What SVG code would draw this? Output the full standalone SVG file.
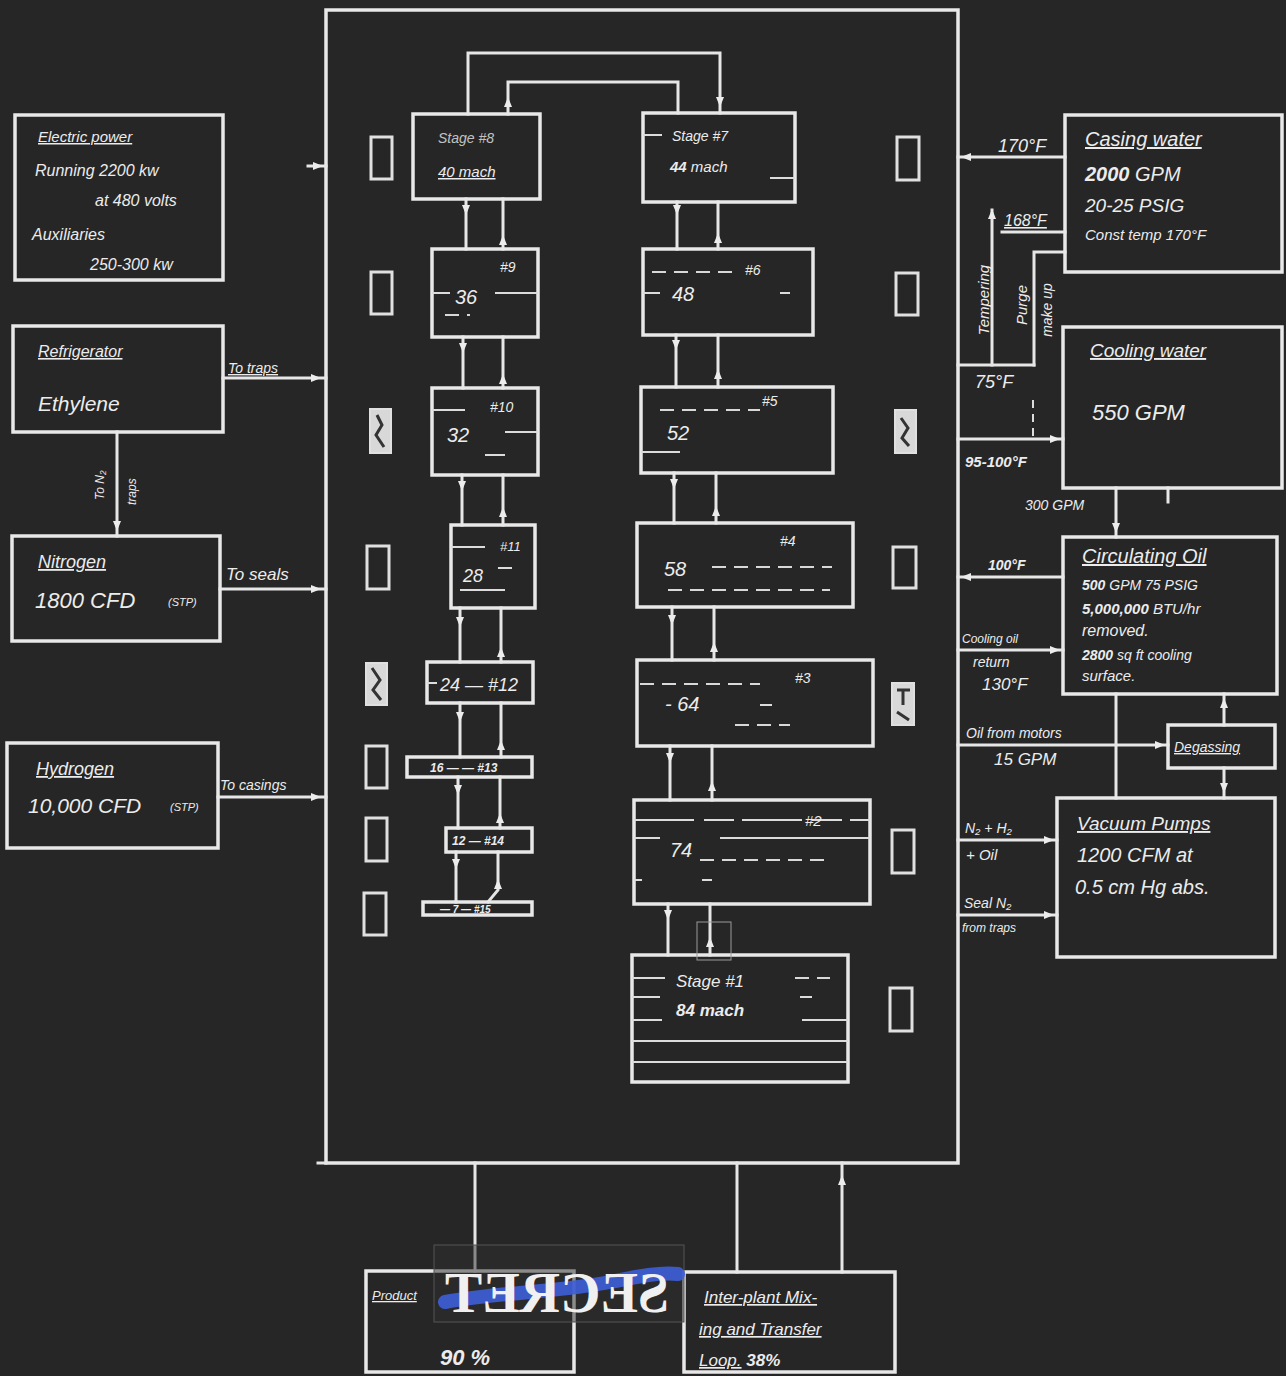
<svg xmlns="http://www.w3.org/2000/svg" width="1286" height="1376" viewBox="0 0 1286 1376">
<style>
.ln{stroke:#e6e6e6;stroke-width:3;fill:none;stroke-linecap:square}
.bx{stroke:#e8e8e8;stroke-width:3.5;fill:none}
.thin{stroke:#dcdcdc;stroke-width:2;fill:none}
.dash{stroke:#d8d8d8;stroke-width:2;fill:none;stroke-dasharray:14 8}
.t{font-family:"Liberation Sans",Arial,sans-serif;font-style:italic;fill:#ececec}
.b{font-weight:bold}
.u{text-decoration:underline}
.ah{fill:#ececec}
.sb{stroke:#e0e0e0;stroke-width:3;fill:none}
.sf{stroke:#e0e0e0;stroke-width:2;fill:#d8d8d8}
</style>
<defs>
<path id="aDn" d="M-4,-5 L4,-5 L0,5 Z"/>
<path id="aUp" d="M-4,5 L4,5 L0,-5 Z"/>
<path id="aL" d="M5,-4 L5,4 L-5,0 Z"/>
<path id="aR" d="M-5,-4 L-5,4 L5,0 Z"/>
</defs>
<rect x="0" y="0" width="1286" height="1376" fill="#262626"/>

<!-- main cascade enclosure -->
<g id="cascade">
<rect class="bx" x="326" y="10" width="632" height="1153" stroke-width="4"/>
</g>

<!-- connectors -->
<g id="connectors" class="ah">
<line class="ln" x1="308" y1="166" x2="326" y2="166"/><use href="#aR" x="318" y="166"/>
<line class="ln" x1="223" y1="378" x2="326" y2="378"/><use href="#aR" x="316" y="378"/>
<line class="ln" x1="220" y1="589" x2="326" y2="589"/><use href="#aR" x="316" y="589"/>
<line class="ln" x1="218" y1="797" x2="326" y2="797"/><use href="#aR" x="316" y="797"/>
<line class="ln" x1="117" y1="432" x2="117" y2="536"/><use href="#aDn" x="117" y="526"/>
<polyline class="ln" points="468,114 468,53 720,53 720,113"/>
<use href="#aDn" x="720" y="102"/>
<polyline class="ln" points="508,114 508,82 678,82 678,113"/>
<use href="#aUp" x="508" y="102"/>
<line class="ln" x1="466" y1="199" x2="466" y2="249"/><use href="#aDn" x="466" y="210"/>
<line class="ln" x1="503" y1="199" x2="503" y2="249"/><use href="#aUp" x="503" y="240"/>
<line class="ln" x1="463" y1="337" x2="463" y2="388"/><use href="#aDn" x="463" y="348"/>
<line class="ln" x1="503" y1="337" x2="503" y2="388"/><use href="#aUp" x="503" y="379"/>
<line class="ln" x1="462" y1="475" x2="462" y2="525"/><use href="#aDn" x="462" y="486"/>
<line class="ln" x1="503" y1="475" x2="503" y2="525"/><use href="#aUp" x="503" y="512"/>
<line class="ln" x1="460" y1="608" x2="460" y2="662"/><use href="#aDn" x="460" y="622"/>
<line class="ln" x1="501" y1="608" x2="501" y2="662"/><use href="#aUp" x="501" y="652"/>
<line class="ln" x1="460" y1="703" x2="460" y2="757"/><use href="#aDn" x="460" y="717"/>
<line class="ln" x1="501" y1="703" x2="501" y2="757"/><use href="#aUp" x="501" y="745"/>
<line class="ln" x1="458" y1="777" x2="458" y2="828"/><use href="#aDn" x="458" y="790"/>
<line class="ln" x1="500" y1="777" x2="500" y2="828"/><use href="#aUp" x="500" y="818"/>
<line class="ln" x1="456" y1="852" x2="456" y2="902"/><use href="#aDn" x="456" y="864"/>
<polyline class="ln" points="498,852 498,890 488,902"/><use href="#aUp" x="498" y="884"/>
<line class="ln" x1="677" y1="202" x2="677" y2="249"/><use href="#aDn" x="677" y="210"/>
<line class="ln" x1="718" y1="202" x2="718" y2="249"/><use href="#aUp" x="718" y="238"/>
<line class="ln" x1="676" y1="335" x2="676" y2="387"/><use href="#aDn" x="676" y="345"/>
<line class="ln" x1="718" y1="335" x2="718" y2="387"/><use href="#aUp" x="718" y="374"/>
<line class="ln" x1="674" y1="473" x2="674" y2="523"/><use href="#aDn" x="674" y="484"/>
<line class="ln" x1="716" y1="473" x2="716" y2="523"/><use href="#aUp" x="716" y="511"/>
<line class="ln" x1="672" y1="607" x2="672" y2="660"/><use href="#aDn" x="672" y="620"/>
<line class="ln" x1="714" y1="607" x2="714" y2="660"/><use href="#aUp" x="714" y="647"/>
<line class="ln" x1="670" y1="746" x2="670" y2="800"/><use href="#aDn" x="670" y="758"/>
<line class="ln" x1="712" y1="746" x2="712" y2="800"/><use href="#aUp" x="712" y="786"/>
<line class="ln" x1="668" y1="904" x2="668" y2="955"/><use href="#aDn" x="668" y="915"/>
<line class="ln" x1="710" y1="904" x2="710" y2="955"/><use href="#aUp" x="710" y="942"/>
<line class="ln" x1="958" y1="157" x2="1065" y2="157"/><use href="#aL" x="966" y="157"/>
<polyline class="ln" points="1002,232 1065,232"/>
<line class="ln" x1="992" y1="210" x2="992" y2="365"/><use href="#aUp" x="992" y="214"/>
<polyline class="ln" points="1065,252 1034,252 1034,365"/>
<line class="ln" x1="958" y1="365" x2="1034" y2="365"/>
<line class="thin" x1="1033" y1="400" x2="1033" y2="438" stroke-dasharray="8 6"/>
<line class="ln" x1="958" y1="439" x2="1063" y2="439"/><use href="#aR" x="1055" y="439"/>
<line class="ln" x1="1168" y1="488" x2="1168" y2="502"/>
<line class="ln" x1="1116" y1="488" x2="1116" y2="537"/><use href="#aDn" x="1116" y="528"/>
<line class="ln" x1="958" y1="577" x2="1063" y2="577"/><use href="#aL" x="966" y="577"/>
<line class="ln" x1="958" y1="650" x2="1063" y2="650"/><use href="#aR" x="1055" y="650"/>
<line class="ln" x1="1116" y1="694" x2="1116" y2="798"/>
<line class="ln" x1="1224" y1="694" x2="1224" y2="725"/><use href="#aUp" x="1224" y="703"/>
<line class="ln" x1="958" y1="745" x2="1168" y2="745"/><use href="#aR" x="1160" y="745"/>
<line class="ln" x1="1224" y1="768" x2="1224" y2="798"/><use href="#aDn" x="1224" y="788"/>
<line class="ln" x1="958" y1="840" x2="1057" y2="840"/><use href="#aR" x="1049" y="840"/>
<line class="ln" x1="958" y1="915" x2="1057" y2="915"/><use href="#aR" x="1049" y="915"/>
<line class="ln" x1="318" y1="1163" x2="326" y2="1163"/>
<line class="ln" x1="475" y1="1163" x2="475" y2="1271"/>
<line class="ln" x1="737" y1="1163" x2="737" y2="1272"/>
<line class="ln" x1="842" y1="1163" x2="842" y2="1272"/><use href="#aUp" x="842" y="1180"/>
</g>

<!-- connector labels -->
<g id="labels">
<text class="t u" x="228" y="373" font-size="14">To traps</text>
<text class="t" x="226" y="580" font-size="17">To seals</text>
<text class="t" x="220" y="790" font-size="14">To casings</text>
<text class="t" font-size="12" transform="translate(104,500) rotate(-90)">To N₂</text>
<text class="t" font-size="12" transform="translate(136,505) rotate(-90)">traps</text>
<text class="t" x="998" y="152" font-size="18">170°F</text>
<text class="t u" x="1004" y="226" font-size="16">168°F</text>
<text class="t" font-size="15" text-anchor="middle" transform="translate(989,300) rotate(-90)">Tempering</text>
<text class="t" font-size="15" text-anchor="middle" transform="translate(1027,305) rotate(-90)">Purge</text>
<text class="t" font-size="14" text-anchor="middle" transform="translate(1052,310) rotate(-90)">make up</text>
<text class="t" x="975" y="388" font-size="18">75°F</text>
<text class="t b" x="965" y="467" font-size="15">95-100°F</text>
<text class="t" x="1025" y="510" font-size="14">300 GPM</text>
<text class="t b" x="988" y="570" font-size="14">100°F</text>
<text class="t" x="962" y="643" font-size="12">Cooling oil</text>
<text class="t" x="973" y="667" font-size="14">return</text>
<text class="t" x="982" y="690" font-size="17">130°F</text>
<text class="t" x="966" y="738" font-size="14">Oil from motors</text>
<text class="t" x="994" y="765" font-size="17">15 GPM</text>
<text class="t" x="965" y="833" font-size="14">N₂ + H₂</text>
<text class="t" x="966" y="860" font-size="15">+ Oil</text>
<text class="t" x="964" y="908" font-size="14">Seal N₂</text>
<text class="t" x="962" y="932" font-size="12">from traps</text>
</g>

<!-- left supply boxes -->
<g id="electric-power">
<rect class="bx" x="15" y="115" width="208" height="165"/>
<text class="t u" x="38" y="142" font-size="15">Electric power</text>
<text class="t" x="35" y="176" font-size="16">Running 2200 kw</text>
<text class="t" x="95" y="206" font-size="16">at 480 volts</text>
<text class="t" x="32" y="240" font-size="16">Auxiliaries</text>
<text class="t" x="90" y="270" font-size="16">250-300 kw</text>
</g>
<g id="refrigerator">
<rect class="bx" x="13" y="326" width="210" height="106"/>
<text class="t u" x="38" y="357" font-size="16">Refrigerator</text>
<text class="t" x="38" y="411" font-size="21">Ethylene</text>
</g>
<g id="nitrogen">
<rect class="bx" x="12" y="536" width="208" height="105"/>
<text class="t u" x="38" y="568" font-size="18">Nitrogen</text>
<text class="t" x="35" y="608" font-size="22">1800 CFD</text>
<text class="t" x="168" y="606" font-size="11">(STP)</text>
</g>
<g id="hydrogen">
<rect class="bx" x="7" y="743" width="211" height="105"/>
<text class="t u" x="36" y="775" font-size="18">Hydrogen</text>
<text class="t" x="28" y="813" font-size="21">10,000 CFD</text>
<text class="t" x="170" y="811" font-size="11">(STP)</text>
</g>

<!-- side boxes inside enclosure -->
<g id="side-boxes">
<rect class="sb" x="371" y="137" width="21" height="42"/>
<rect class="sb" x="371" y="272" width="21" height="42"/>
<rect class="sf" x="370" y="409" width="21" height="44"/>
<path d="M377,415 L382,425 L376,435 L384,447" stroke="#333" stroke-width="3" fill="none"/>
<rect class="sb" x="367" y="546" width="22" height="43"/>
<rect class="sf" x="366" y="663" width="21" height="42"/>
<path d="M372,668 L380,680 L373,690 L381,700" stroke="#333" stroke-width="3" fill="none"/>
<rect class="sb" x="366" y="746" width="21" height="42"/>
<rect class="sb" x="366" y="818" width="21" height="43"/>
<rect class="sb" x="364" y="893" width="22" height="42"/>
<rect class="sb" x="897" y="137" width="22" height="43"/>
<rect class="sb" x="896" y="273" width="22" height="42"/>
<rect class="sf" x="895" y="410" width="21" height="43"/>
<path d="M901,418 L908,428 L902,438 L909,446" stroke="#333" stroke-width="3" fill="none"/>
<rect class="sb" x="893" y="547" width="23" height="41"/>
<rect class="sf" x="892" y="683" width="22" height="42"/>
<path d="M897,690 L910,690 M903,690 L903,705 M897,712 L909,720" stroke="#333" stroke-width="3" fill="none"/>
<rect class="sb" x="892" y="830" width="22" height="43"/>
<rect class="sb" x="890" y="988" width="22" height="43"/>
</g>

<!-- stages -->
<g id="stage-8">
<rect class="bx" x="413" y="114" width="127" height="85"/>
<text class="t" x="438" y="143" font-size="14" fill-opacity="0.8">Stage #8</text>
<text class="t u" x="438" y="177" font-size="15">40 mach</text>
</g>
<g id="stage-7">
<rect class="bx" x="643" y="113" width="152" height="89"/>
<line class="thin" x1="643" y1="135" x2="662" y2="135"/>
<line class="thin" x1="770" y1="178" x2="795" y2="178"/>
<text class="t" x="672" y="141" font-size="14">Stage #7</text>
<text class="t" x="670" y="172" font-size="15"><tspan class="b">44</tspan> mach</text>
</g>
<g id="stage-9">
<rect class="bx" x="432" y="249" width="106" height="88"/>
<line class="thin" x1="432" y1="293" x2="450" y2="293"/>
<line class="thin" x1="495" y1="293" x2="538" y2="293"/>
<line class="dash" x1="445" y1="315" x2="470" y2="315"/>
<text class="t" x="500" y="272" font-size="14">#9</text>
<text class="t" x="455" y="304" font-size="20">36</text>
</g>
<g id="stage-6">
<rect class="bx" x="643" y="249" width="170" height="86"/>
<line class="dash" x1="652" y1="272" x2="740" y2="272"/>
<line class="thin" x1="643" y1="293" x2="660" y2="293"/>
<line class="thin" x1="780" y1="293" x2="790" y2="293"/>
<text class="t" x="745" y="275" font-size="14">#6</text>
<text class="t" x="672" y="301" font-size="20">48</text>
</g>
<g id="stage-10">
<rect class="bx" x="432" y="388" width="106" height="87"/>
<line class="thin" x1="432" y1="410" x2="465" y2="410"/>
<line class="thin" x1="505" y1="432" x2="538" y2="432"/>
<line class="thin" x1="485" y1="455" x2="505" y2="455"/>
<text class="t" x="490" y="412" font-size="14">#10</text>
<text class="t" x="447" y="442" font-size="20">32</text>
</g>
<g id="stage-5">
<rect class="bx" x="641" y="387" width="192" height="86"/>
<line class="dash" x1="660" y1="410" x2="760" y2="410"/>
<line class="thin" x1="641" y1="452" x2="680" y2="452"/>
<text class="t" x="762" y="406" font-size="14">#5</text>
<text class="t" x="667" y="440" font-size="20">52</text>
</g>
<g id="stage-11">
<rect class="bx" x="451" y="525" width="84" height="83"/>
<line class="thin" x1="451" y1="547" x2="485" y2="547"/>
<line class="thin" x1="498" y1="568" x2="512" y2="568"/>
<line class="thin" x1="460" y1="590" x2="505" y2="590"/>
<text class="t" x="500" y="551" font-size="13">#11</text>
<text class="t" x="463" y="582" font-size="18">28</text>
</g>
<g id="stage-4">
<rect class="bx" x="637" y="523" width="216" height="84"/>
<line class="dash" x1="712" y1="567" x2="832" y2="567"/>
<line class="dash" x1="668" y1="590" x2="830" y2="590"/>
<text class="t" x="780" y="546" font-size="14">#4</text>
<text class="t" x="664" y="576" font-size="20">58</text>
</g>
<g id="stage-12">
<rect class="bx" x="427" y="662" width="106" height="41"/>
<line class="thin" x1="427" y1="683" x2="437" y2="683"/>
<text class="t" x="440" y="691" font-size="18">24 — #12</text>
</g>
<g id="stage-3">
<rect class="bx" x="637" y="660" width="236" height="86"/>
<line class="dash" x1="640" y1="684" x2="760" y2="684"/>
<line class="dash" x1="735" y1="725" x2="790" y2="725"/>
<line class="thin" x1="760" y1="705" x2="772" y2="705"/>
<text class="t" x="795" y="683" font-size="14">#3</text>
<text class="t" x="665" y="711" font-size="20">- 64</text>
</g>
<g id="stage-13">
<rect class="bx" x="407" y="757" width="125" height="20"/>
<text class="t b" x="430" y="772" font-size="12">16 — — #13</text>
</g>
<g id="stage-2">
<rect class="bx" x="634" y="800" width="236" height="104"/>
<line class="thin" x1="634" y1="820" x2="870" y2="820" stroke-dasharray="60 10 30 8"/>
<line class="thin" x1="634" y1="838" x2="660" y2="838"/>
<line class="thin" x1="720" y1="838" x2="870" y2="838"/>
<line class="dash" x1="700" y1="860" x2="830" y2="860"/>
<line class="thin" x1="634" y1="880" x2="870" y2="880" stroke-dasharray="8 60 10 200"/>
<text class="t" x="805" y="826" font-size="15">#2</text>
<text class="t" x="670" y="857" font-size="20">74</text>
</g>
<g id="stage-14">
<rect class="bx" x="446" y="828" width="86" height="24"/>
<text class="t b" x="452" y="845" font-size="12">12 — #14</text>
</g>
<g id="stage-15">
<rect class="bx" x="423" y="902" width="109" height="13"/>
<text class="t b" x="440" y="913" font-size="10">— 7 — #15</text>
</g>
<g id="stage-1">
<rect class="bx" x="632" y="955" width="216" height="127"/>
<line class="thin" x1="632" y1="978" x2="665" y2="978"/>
<line class="dash" x1="795" y1="978" x2="830" y2="978"/>
<line class="thin" x1="632" y1="997" x2="660" y2="997"/>
<line class="thin" x1="800" y1="997" x2="812" y2="997"/>
<line class="thin" x1="632" y1="1020" x2="848" y2="1020" stroke-dasharray="30 140 46"/>
<line class="thin" x1="632" y1="1041" x2="848" y2="1041"/>
<line class="thin" x1="632" y1="1062" x2="848" y2="1062"/>
<text class="t" x="676" y="987" font-size="17">Stage #1</text>
<text class="t b" x="676" y="1016" font-size="17">84 mach</text>
<rect x="697" y="922" width="34" height="38" fill="none" stroke="#9a9a9a" stroke-width="1"/>
</g>

<!-- right service boxes -->
<g id="casing-water">
<rect class="bx" x="1065" y="115" width="217" height="157"/>
<text class="t u" x="1085" y="146" font-size="20">Casing water</text>
<text class="t" x="1085" y="181" font-size="20"><tspan class="b">2000</tspan> GPM</text>
<text class="t" x="1085" y="212" font-size="19">20-25 PSIG</text>
<text class="t" x="1085" y="240" font-size="15">Const temp 170°F</text>
</g>
<g id="cooling-water">
<rect class="bx" x="1063" y="327" width="219" height="161"/>
<text class="t u" x="1090" y="357" font-size="19">Cooling water</text>
<text class="t" x="1092" y="420" font-size="22">550 GPM</text>
</g>
<g id="circulating-oil">
<rect class="bx" x="1063" y="537" width="214" height="157"/>
<text class="t u" x="1082" y="563" font-size="20">Circulating Oil</text>
<text class="t" x="1082" y="590" font-size="14"><tspan class="b">500</tspan> GPM  75 PSIG</text>
<text class="t" x="1082" y="614" font-size="15"><tspan class="b">5,000,000</tspan> BTU/hr</text>
<text class="t" x="1082" y="636" font-size="16">removed.</text>
<text class="t" x="1082" y="660" font-size="14"><tspan class="b">2800</tspan> sq ft cooling</text>
<text class="t" x="1082" y="681" font-size="15">surface.</text>
</g>
<g id="degassing">
<rect class="bx" x="1168" y="725" width="107" height="43"/>
<text class="t u" x="1174" y="752" font-size="14">Degassing</text>
</g>
<g id="vacuum-pumps">
<rect class="bx" x="1057" y="798" width="218" height="159"/>
<text class="t u" x="1077" y="830" font-size="19">Vacuum Pumps</text>
<text class="t" x="1077" y="862" font-size="20">1200 CFM at</text>
<text class="t" x="1075" y="894" font-size="20">0.5 cm Hg abs.</text>
</g>

<!-- output boxes -->
<g id="product">
<rect class="bx" x="366" y="1271" width="208" height="101"/>
<text class="t u" x="372" y="1300" font-size="13">Product</text>
<text class="t b" x="440" y="1365" font-size="22">90 %</text>
</g>
<g id="inter-plant">
<rect class="bx" x="684" y="1272" width="211" height="100"/>
<text class="t u" x="704" y="1303" font-size="17">Inter-plant Mix-</text>
<text class="t u" x="699" y="1335" font-size="17">ing and Transfer</text>
<text class="t" x="699" y="1366" font-size="17"><tspan class="u">Loop.</tspan>  <tspan class="b">38%</tspan></text>
</g>

<!-- stamp -->
<g id="stamp">
<rect x="434" y="1245" width="250" height="77" fill="#2e2e2e" fill-opacity="0.5" stroke="#555" stroke-width="1"/>
<path d="M445,1302 C500,1292 560,1292 610,1282 C640,1276 660,1272 678,1274" stroke="#3e5fd8" stroke-width="14" fill="none" stroke-linecap="round" opacity="0.9"/>
<text x="557" y="1312" font-size="56" font-weight="bold" text-anchor="middle" font-family="Liberation Serif, serif" fill="#f0f0f0" transform="translate(1114,0) scale(-1,1)">SECRET</text>
</g>
</svg>
